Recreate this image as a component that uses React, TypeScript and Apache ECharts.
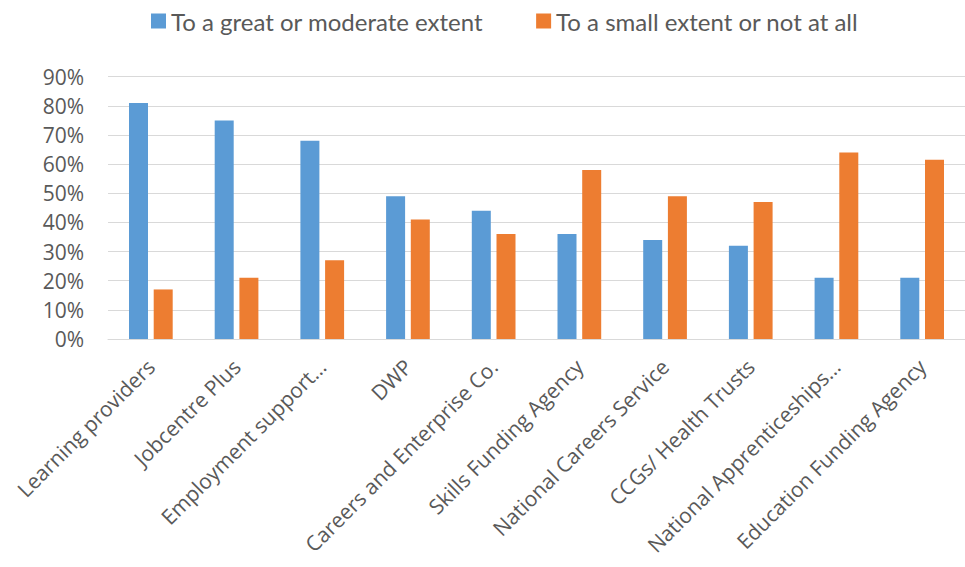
import React, { useEffect, useRef } from "react";
import * as echarts from "echarts";

const categories = [
  "Learning providers",
  "Jobcentre Plus",
  "Employment support…",
  "DWP",
  "Careers and Enterprise Co.",
  "Skills Funding Agency",
  "National Careers Service",
  "CCGs/ Health Trusts",
  "National Apprenticeships…",
  "Education Funding Agency",
];
const greatOrModerate = [81, 75, 68, 49, 44, 36, 34, 32, 21, 21];
const smallOrNotAtAll = [17, 21, 27, 41, 36, 58, 49, 47, 64, 61.5];
const seriesNames = ["To a great or moderate extent", "To a small extent or not at all"];
const yTicks = { min: 0, max: 90, interval: 10 };

export default function App() {
  const ref = useRef<HTMLDivElement>(null);
  useEffect(() => {
    document.body.style.margin = "0";
    const chart = echarts.init(ref.current!, null, { renderer: "svg" });
    chart.setOption({
      animation: false,
      color: ["#5b9bd5", "#ed7d31"],
      legend: {
        left: 146,
        top: 4,
        itemWidth: 15,
        itemHeight: 15,
        itemGap: 53,
        icon: "rect",
        textStyle: { fontFamily: "Lato", fontSize: 24, color: "#595959" },
        data: seriesNames,
      },
      grid: { left: 108, top: 76.7, width: 868, height: 262.3, containLabel: false },
      xAxis: {
        type: "category",
        data: categories,
        axisLine: { lineStyle: { color: "#d9d9d9", width: 1 } },
        axisTick: { show: false },
        axisLabel: {
          rotate: 45,
          interval: 0,
          margin: 24,
          fontFamily: "'Open Sans', sans-serif",
          fontSize: 21,
          color: "#595959",
        },
      },
      yAxis: {
        type: "value",
        min: yTicks.min,
        max: yTicks.max,
        interval: yTicks.interval,
        axisLine: { show: false },
        axisTick: { show: false },
        splitLine: { lineStyle: { color: "#d9d9d9", width: 1 } },
        axisLabel: {
          formatter: "{value}%",
          margin: 24,
          fontFamily: "'Open Sans', sans-serif",
          fontSize: 21,
          color: "#595959",
        },
      },
      series: [
        { name: seriesNames[0], type: "bar", data: greatOrModerate, barWidth: 19, barGap: "30%" },
        { name: seriesNames[1], type: "bar", data: smallOrNotAtAll, barWidth: 19, barGap: "30%" },
      ],
    });
    return () => chart.dispose();
  }, []);
  return <div ref={ref} style={{ width: 965, height: 567 }} />;
}
